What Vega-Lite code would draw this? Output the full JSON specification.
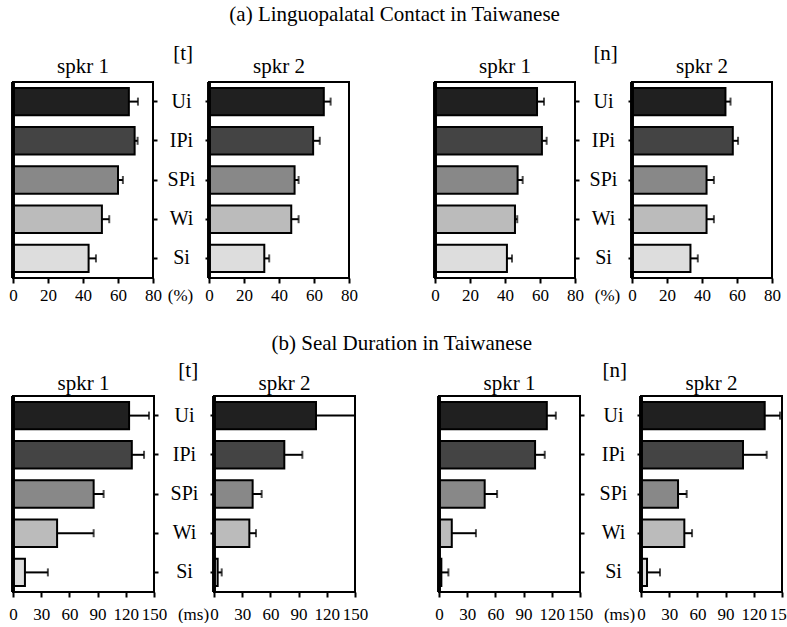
{
  "$schema": "https://vega.github.io/schema/vega-lite/v6.json",
  "background": "white",
  "padding": {"left": 7, "top": 3, "right": 0, "bottom": 0},
  "data": {"values": [
    {"m":"a","c":"t","s":1,"v":"Ui","val":66.2,"hi":71.4},
    {"m":"a","c":"t","s":1,"v":"IPi","val":69.5,"hi":71.2},
    {"m":"a","c":"t","s":1,"v":"SPi","val":60.0,"hi":62.8},
    {"m":"a","c":"t","s":1,"v":"Wi","val":50.8,"hi":55.0},
    {"m":"a","c":"t","s":1,"v":"Si","val":43.2,"hi":47.4},
    {"m":"a","c":"t","s":2,"v":"Ui","val":65.6,"hi":69.5},
    {"m":"a","c":"t","s":2,"v":"IPi","val":59.5,"hi":63.3},
    {"m":"a","c":"t","s":2,"v":"SPi","val":48.9,"hi":51.2},
    {"m":"a","c":"t","s":2,"v":"Wi","val":47.0,"hi":51.2},
    {"m":"a","c":"t","s":2,"v":"Si","val":31.6,"hi":34.4},
    {"m":"a","c":"n","s":1,"v":"Ui","val":58.3,"hi":62.3},
    {"m":"a","c":"n","s":1,"v":"IPi","val":61.1,"hi":63.8},
    {"m":"a","c":"n","s":1,"v":"SPi","val":47.2,"hi":50.1},
    {"m":"a","c":"n","s":1,"v":"Wi","val":45.7,"hi":47.0},
    {"m":"a","c":"n","s":1,"v":"Si","val":41.1,"hi":44.0},
    {"m":"a","c":"n","s":2,"v":"Ui","val":53.4,"hi":56.3},
    {"m":"a","c":"n","s":2,"v":"IPi","val":57.6,"hi":60.6},
    {"m":"a","c":"n","s":2,"v":"SPi","val":42.6,"hi":46.8},
    {"m":"a","c":"n","s":2,"v":"Wi","val":42.6,"hi":46.8},
    {"m":"a","c":"n","s":2,"v":"Si","val":33.4,"hi":37.6},
    {"m":"b","c":"t","s":1,"v":"Ui","val":123.5,"hi":144.7},
    {"m":"b","c":"t","s":1,"v":"IPi","val":126.4,"hi":139.4},
    {"m":"b","c":"t","s":1,"v":"SPi","val":85.8,"hi":96.4},
    {"m":"b","c":"t","s":1,"v":"Wi","val":46.9,"hi":85.8},
    {"m":"b","c":"t","s":1,"v":"Si","val":12.7,"hi":37.1},
    {"m":"b","c":"t","s":2,"v":"Ui","val":108.5,"hi":150.0},
    {"m":"b","c":"t","s":2,"v":"IPi","val":74.8,"hi":94.0},
    {"m":"b","c":"t","s":2,"v":"SPi","val":41.1,"hi":50.7},
    {"m":"b","c":"t","s":2,"v":"Wi","val":37.6,"hi":44.7},
    {"m":"b","c":"t","s":2,"v":"Si","val":3.9,"hi":8.2},
    {"m":"b","c":"n","s":1,"v":"Ui","val":114.7,"hi":124.3},
    {"m":"b","c":"n","s":1,"v":"IPi","val":102.2,"hi":112.5},
    {"m":"b","c":"n","s":1,"v":"SPi","val":48.6,"hi":61.8},
    {"m":"b","c":"n","s":1,"v":"Wi","val":13.6,"hi":39.3},
    {"m":"b","c":"n","s":1,"v":"Si","val":2.5,"hi":10.0},
    {"m":"b","c":"n","s":2,"v":"Ui","val":131.6,"hi":147.9},
    {"m":"b","c":"n","s":2,"v":"IPi","val":108.5,"hi":133.7},
    {"m":"b","c":"n","s":2,"v":"SPi","val":39.4,"hi":48.6},
    {"m":"b","c":"n","s":2,"v":"Wi","val":46.1,"hi":54.3},
    {"m":"b","c":"n","s":2,"v":"Si","val":6.4,"hi":20.2}
  ]},
  "spacing": 28,
  "vconcat": [
    {
      "title": {"text": "(a) Linguopalatal Contact in Taiwanese", "offset": 18, "anchor": "middle"},
      "spacing": 70,
      "hconcat": [
        {
          "title": {"text": "[t]", "offset": -9, "anchor": "middle"},
          "bounds": "flush",
          "spacing": 56,
          "hconcat": [
            {
              "title": {"text": "spkr 1", "offset": 4, "anchor": "middle"},
              "width": 140, "height": 196,
              "transform": [{"filter": "datum.m=='a' && datum.c=='t' && datum.s==1"}],
              "layer": [
                {"mark": {"type": "bar", "stroke": "black", "strokeWidth": 2},
                 "encoding": {
                   "y": {"field": "v", "type": "nominal", "scale": {"domain": ["Ui","IPi","SPi","Wi","Si"], "paddingInner": 0.3, "paddingOuter": 0.15}, "axis": {"orient": "right", "title": null, "labelAlign": "center", "labelPadding": 24}},
                   "x": {"field": "val", "type": "quantitative", "scale": {"domain": [0, 80]}, "axis": {"values": [0,20,40,60,80], "title": "(%)", "titleX": 167, "titleY": 9, "titleBaseline": "top", "titleAlign": "center", "titleFontSize": 17, "labelPadding": 4}},
                   "fill": {"field": "v", "type": "nominal", "scale": {"domain": ["Ui","IPi","SPi","Wi","Si"], "range": ["#202020","#444444","#888888","#bbbbbb","#dddddd"]}, "legend": null}
                 }},
                {"mark": {"type": "rule", "color": "black", "strokeWidth": 2},
                 "encoding": {
                   "y": {"field": "v", "type": "nominal", "scale": {"domain": ["Ui","IPi","SPi","Wi","Si"], "paddingInner": 0.3, "paddingOuter": 0.15}, "axis": {"orient": "right", "title": null, "labelAlign": "center", "labelPadding": 24}},
                   "x": {"field": "val", "type": "quantitative", "scale": {"domain": [0, 80]}, "axis": {"values": [0,20,40,60,80], "title": "(%)", "titleX": 167, "titleY": 9, "titleBaseline": "top", "titleAlign": "center", "titleFontSize": 17, "labelPadding": 4}},
                   "x2": {"field": "hi"}}},
                {"mark": {"type": "tick", "color": "black", "orient": "vertical", "size": 8, "thickness": 2},
                 "encoding": {
                   "y": {"field": "v", "type": "nominal", "scale": {"domain": ["Ui","IPi","SPi","Wi","Si"], "paddingInner": 0.3, "paddingOuter": 0.15}, "axis": {"orient": "right", "title": null, "labelAlign": "center", "labelPadding": 24}},
                   "x": {"field": "hi", "type": "quantitative", "scale": {"domain": [0, 80]}, "axis": {"values": [0,20,40,60,80], "title": "(%)", "titleX": 167, "titleY": 9, "titleBaseline": "top", "titleAlign": "center", "titleFontSize": 17, "labelPadding": 4}}}},
                {"mark": {"type": "rule", "color": "black", "strokeWidth": 3},
                 "encoding": {
                   "x": {"datum": 0, "type": "quantitative", "scale": {"domain": [0, 80]}, "axis": {"values": [0,20,40,60,80], "title": "(%)", "titleX": 167, "titleY": 9, "titleBaseline": "top", "titleAlign": "center", "titleFontSize": 17, "labelPadding": 4}}}}
              ]
            },
            {
              "title": {"text": "spkr 2", "offset": 4, "anchor": "middle"},
              "width": 140, "height": 196,
              "transform": [{"filter": "datum.m=='a' && datum.c=='t' && datum.s==2"}],
              "layer": [
                {"mark": {"type": "bar", "stroke": "black", "strokeWidth": 2},
                 "encoding": {
                   "y": {"field": "v", "type": "nominal", "scale": {"domain": ["Ui","IPi","SPi","Wi","Si"], "paddingInner": 0.3, "paddingOuter": 0.15}, "axis": {"orient": "left", "title": null, "labels": false}},
                   "x": {"field": "val", "type": "quantitative", "scale": {"domain": [0, 80]}, "axis": {"values": [0,20,40,60,80], "title": null, "labelPadding": 4}},
                   "fill": {"field": "v", "type": "nominal", "scale": {"domain": ["Ui","IPi","SPi","Wi","Si"], "range": ["#202020","#444444","#888888","#bbbbbb","#dddddd"]}, "legend": null}
                 }},
                {"mark": {"type": "rule", "color": "black", "strokeWidth": 2},
                 "encoding": {
                   "y": {"field": "v", "type": "nominal", "scale": {"domain": ["Ui","IPi","SPi","Wi","Si"], "paddingInner": 0.3, "paddingOuter": 0.15}, "axis": {"orient": "left", "title": null, "labels": false}},
                   "x": {"field": "val", "type": "quantitative", "scale": {"domain": [0, 80]}, "axis": {"values": [0,20,40,60,80], "title": null, "labelPadding": 4}},
                   "x2": {"field": "hi"}}},
                {"mark": {"type": "tick", "color": "black", "orient": "vertical", "size": 8, "thickness": 2},
                 "encoding": {
                   "y": {"field": "v", "type": "nominal", "scale": {"domain": ["Ui","IPi","SPi","Wi","Si"], "paddingInner": 0.3, "paddingOuter": 0.15}, "axis": {"orient": "left", "title": null, "labels": false}},
                   "x": {"field": "hi", "type": "quantitative", "scale": {"domain": [0, 80]}, "axis": {"values": [0,20,40,60,80], "title": null, "labelPadding": 4}}}},
                {"mark": {"type": "rule", "color": "black", "strokeWidth": 3},
                 "encoding": {
                   "x": {"datum": 0, "type": "quantitative", "scale": {"domain": [0, 80]}, "axis": {"values": [0,20,40,60,80], "title": null, "labelPadding": 4}}}}
              ]
            }
          ]
        },
        {
          "title": {"text": "[n]", "offset": -9, "anchor": "middle"},
          "bounds": "flush",
          "spacing": 57,
          "hconcat": [
            {
              "title": {"text": "spkr 1", "offset": 4, "anchor": "middle"},
              "width": 140, "height": 196,
              "transform": [{"filter": "datum.m=='a' && datum.c=='n' && datum.s==1"}],
              "layer": [
                {"mark": {"type": "bar", "stroke": "black", "strokeWidth": 2},
                 "encoding": {
                   "y": {"field": "v", "type": "nominal", "scale": {"domain": ["Ui","IPi","SPi","Wi","Si"], "paddingInner": 0.3, "paddingOuter": 0.15}, "axis": {"orient": "right", "title": null, "labelAlign": "center", "labelPadding": 24}},
                   "x": {"field": "val", "type": "quantitative", "scale": {"domain": [0, 80]}, "axis": {"values": [0,20,40,60,80], "title": "(%)", "titleX": 172, "titleY": 9, "titleBaseline": "top", "titleAlign": "center", "titleFontSize": 17, "labelPadding": 4}},
                   "fill": {"field": "v", "type": "nominal", "scale": {"domain": ["Ui","IPi","SPi","Wi","Si"], "range": ["#202020","#444444","#888888","#bbbbbb","#dddddd"]}, "legend": null}
                 }},
                {"mark": {"type": "rule", "color": "black", "strokeWidth": 2},
                 "encoding": {
                   "y": {"field": "v", "type": "nominal", "scale": {"domain": ["Ui","IPi","SPi","Wi","Si"], "paddingInner": 0.3, "paddingOuter": 0.15}, "axis": {"orient": "right", "title": null, "labelAlign": "center", "labelPadding": 24}},
                   "x": {"field": "val", "type": "quantitative", "scale": {"domain": [0, 80]}, "axis": {"values": [0,20,40,60,80], "title": "(%)", "titleX": 172, "titleY": 9, "titleBaseline": "top", "titleAlign": "center", "titleFontSize": 17, "labelPadding": 4}},
                   "x2": {"field": "hi"}}},
                {"mark": {"type": "tick", "color": "black", "orient": "vertical", "size": 8, "thickness": 2},
                 "encoding": {
                   "y": {"field": "v", "type": "nominal", "scale": {"domain": ["Ui","IPi","SPi","Wi","Si"], "paddingInner": 0.3, "paddingOuter": 0.15}, "axis": {"orient": "right", "title": null, "labelAlign": "center", "labelPadding": 24}},
                   "x": {"field": "hi", "type": "quantitative", "scale": {"domain": [0, 80]}, "axis": {"values": [0,20,40,60,80], "title": "(%)", "titleX": 172, "titleY": 9, "titleBaseline": "top", "titleAlign": "center", "titleFontSize": 17, "labelPadding": 4}}}},
                {"mark": {"type": "rule", "color": "black", "strokeWidth": 3},
                 "encoding": {
                   "x": {"datum": 0, "type": "quantitative", "scale": {"domain": [0, 80]}, "axis": {"values": [0,20,40,60,80], "title": "(%)", "titleX": 172, "titleY": 9, "titleBaseline": "top", "titleAlign": "center", "titleFontSize": 17, "labelPadding": 4}}}}
              ]
            },
            {
              "title": {"text": "spkr 2", "offset": 4, "anchor": "middle"},
              "width": 140, "height": 196,
              "transform": [{"filter": "datum.m=='a' && datum.c=='n' && datum.s==2"}],
              "layer": [
                {"mark": {"type": "bar", "stroke": "black", "strokeWidth": 2},
                 "encoding": {
                   "y": {"field": "v", "type": "nominal", "scale": {"domain": ["Ui","IPi","SPi","Wi","Si"], "paddingInner": 0.3, "paddingOuter": 0.15}, "axis": {"orient": "left", "title": null, "labels": false}},
                   "x": {"field": "val", "type": "quantitative", "scale": {"domain": [0, 80]}, "axis": {"values": [0,20,40,60,80], "title": null, "labelPadding": 4}},
                   "fill": {"field": "v", "type": "nominal", "scale": {"domain": ["Ui","IPi","SPi","Wi","Si"], "range": ["#202020","#444444","#888888","#bbbbbb","#dddddd"]}, "legend": null}
                 }},
                {"mark": {"type": "rule", "color": "black", "strokeWidth": 2},
                 "encoding": {
                   "y": {"field": "v", "type": "nominal", "scale": {"domain": ["Ui","IPi","SPi","Wi","Si"], "paddingInner": 0.3, "paddingOuter": 0.15}, "axis": {"orient": "left", "title": null, "labels": false}},
                   "x": {"field": "val", "type": "quantitative", "scale": {"domain": [0, 80]}, "axis": {"values": [0,20,40,60,80], "title": null, "labelPadding": 4}},
                   "x2": {"field": "hi"}}},
                {"mark": {"type": "tick", "color": "black", "orient": "vertical", "size": 8, "thickness": 2},
                 "encoding": {
                   "y": {"field": "v", "type": "nominal", "scale": {"domain": ["Ui","IPi","SPi","Wi","Si"], "paddingInner": 0.3, "paddingOuter": 0.15}, "axis": {"orient": "left", "title": null, "labels": false}},
                   "x": {"field": "hi", "type": "quantitative", "scale": {"domain": [0, 80]}, "axis": {"values": [0,20,40,60,80], "title": null, "labelPadding": 4}}}},
                {"mark": {"type": "rule", "color": "black", "strokeWidth": 3},
                 "encoding": {
                   "x": {"datum": 0, "type": "quantitative", "scale": {"domain": [0, 80]}, "axis": {"values": [0,20,40,60,80], "title": null, "labelPadding": 4}}}}
              ]
            }
          ]
        }
      ]
    },
    {
      "title": {"text": "(b) Seal Duration in Taiwanese", "offset": 6, "anchor": "middle"},
      "spacing": 64,
      "hconcat": [
        {
          "title": {"text": "[t]", "offset": -9, "anchor": "middle"},
          "bounds": "flush",
          "spacing": 60,
          "hconcat": [
            {
              "title": {"text": "spkr 1", "offset": 1, "anchor": "middle"},
              "width": 141, "height": 196,
              "transform": [{"filter": "datum.m=='b' && datum.c=='t' && datum.s==1"}],
              "layer": [
                {"mark": {"type": "bar", "stroke": "black", "strokeWidth": 2},
                 "encoding": {
                   "y": {"field": "v", "type": "nominal", "scale": {"domain": ["Ui","IPi","SPi","Wi","Si"], "paddingInner": 0.3, "paddingOuter": 0.15}, "axis": {"orient": "right", "title": null, "labelAlign": "center", "labelPadding": 26}},
                   "x": {"field": "val", "type": "quantitative", "scale": {"domain": [0, 150]}, "axis": {"values": [0,30,60,90,120,150], "title": "(ms)", "titleX": 180, "titleY": 14, "titleBaseline": "top", "titleAlign": "center", "titleFontSize": 17, "labelPadding": 9}},
                   "fill": {"field": "v", "type": "nominal", "scale": {"domain": ["Ui","IPi","SPi","Wi","Si"], "range": ["#202020","#444444","#888888","#bbbbbb","#dddddd"]}, "legend": null}
                 }},
                {"mark": {"type": "rule", "color": "black", "strokeWidth": 2},
                 "encoding": {
                   "y": {"field": "v", "type": "nominal", "scale": {"domain": ["Ui","IPi","SPi","Wi","Si"], "paddingInner": 0.3, "paddingOuter": 0.15}, "axis": {"orient": "right", "title": null, "labelAlign": "center", "labelPadding": 26}},
                   "x": {"field": "val", "type": "quantitative", "scale": {"domain": [0, 150]}, "axis": {"values": [0,30,60,90,120,150], "title": "(ms)", "titleX": 180, "titleY": 14, "titleBaseline": "top", "titleAlign": "center", "titleFontSize": 17, "labelPadding": 9}},
                   "x2": {"field": "hi"}}},
                {"mark": {"type": "tick", "color": "black", "orient": "vertical", "size": 8, "thickness": 2},
                 "encoding": {
                   "y": {"field": "v", "type": "nominal", "scale": {"domain": ["Ui","IPi","SPi","Wi","Si"], "paddingInner": 0.3, "paddingOuter": 0.15}, "axis": {"orient": "right", "title": null, "labelAlign": "center", "labelPadding": 26}},
                   "x": {"field": "hi", "type": "quantitative", "scale": {"domain": [0, 150]}, "axis": {"values": [0,30,60,90,120,150], "title": "(ms)", "titleX": 180, "titleY": 14, "titleBaseline": "top", "titleAlign": "center", "titleFontSize": 17, "labelPadding": 9}}}},
                {"mark": {"type": "rule", "color": "black", "strokeWidth": 3},
                 "encoding": {
                   "x": {"datum": 0, "type": "quantitative", "scale": {"domain": [0, 150]}, "axis": {"values": [0,30,60,90,120,150], "title": "(ms)", "titleX": 180, "titleY": 14, "titleBaseline": "top", "titleAlign": "center", "titleFontSize": 17, "labelPadding": 9}}}}
              ]
            },
            {
              "title": {"text": "spkr 2", "offset": 1, "anchor": "middle"},
              "width": 141, "height": 196,
              "transform": [{"filter": "datum.m=='b' && datum.c=='t' && datum.s==2"}],
              "layer": [
                {"mark": {"type": "bar", "stroke": "black", "strokeWidth": 2},
                 "encoding": {
                   "y": {"field": "v", "type": "nominal", "scale": {"domain": ["Ui","IPi","SPi","Wi","Si"], "paddingInner": 0.3, "paddingOuter": 0.15}, "axis": {"orient": "left", "title": null, "labels": false}},
                   "x": {"field": "val", "type": "quantitative", "scale": {"domain": [0, 150]}, "axis": {"values": [0,30,60,90,120,150], "title": null, "labelPadding": 9}},
                   "fill": {"field": "v", "type": "nominal", "scale": {"domain": ["Ui","IPi","SPi","Wi","Si"], "range": ["#202020","#444444","#888888","#bbbbbb","#dddddd"]}, "legend": null}
                 }},
                {"mark": {"type": "rule", "color": "black", "strokeWidth": 2},
                 "encoding": {
                   "y": {"field": "v", "type": "nominal", "scale": {"domain": ["Ui","IPi","SPi","Wi","Si"], "paddingInner": 0.3, "paddingOuter": 0.15}, "axis": {"orient": "left", "title": null, "labels": false}},
                   "x": {"field": "val", "type": "quantitative", "scale": {"domain": [0, 150]}, "axis": {"values": [0,30,60,90,120,150], "title": null, "labelPadding": 9}},
                   "x2": {"field": "hi"}}},
                {"mark": {"type": "tick", "color": "black", "orient": "vertical", "size": 8, "thickness": 2},
                 "encoding": {
                   "y": {"field": "v", "type": "nominal", "scale": {"domain": ["Ui","IPi","SPi","Wi","Si"], "paddingInner": 0.3, "paddingOuter": 0.15}, "axis": {"orient": "left", "title": null, "labels": false}},
                   "x": {"field": "hi", "type": "quantitative", "scale": {"domain": [0, 150]}, "axis": {"values": [0,30,60,90,120,150], "title": null, "labelPadding": 9}}}},
                {"mark": {"type": "rule", "color": "black", "strokeWidth": 3},
                 "encoding": {
                   "x": {"datum": 0, "type": "quantitative", "scale": {"domain": [0, 150]}, "axis": {"values": [0,30,60,90,120,150], "title": null, "labelPadding": 9}}}}
              ]
            }
          ]
        },
        {
          "title": {"text": "[n]", "offset": -9, "anchor": "middle"},
          "bounds": "flush",
          "spacing": 61,
          "hconcat": [
            {
              "title": {"text": "spkr 1", "offset": 1, "anchor": "middle"},
              "width": 141, "height": 196,
              "transform": [{"filter": "datum.m=='b' && datum.c=='n' && datum.s==1"}],
              "layer": [
                {"mark": {"type": "bar", "stroke": "black", "strokeWidth": 2},
                 "encoding": {
                   "y": {"field": "v", "type": "nominal", "scale": {"domain": ["Ui","IPi","SPi","Wi","Si"], "paddingInner": 0.3, "paddingOuter": 0.15}, "axis": {"orient": "right", "title": null, "labelAlign": "center", "labelPadding": 29}},
                   "x": {"field": "val", "type": "quantitative", "scale": {"domain": [0, 150]}, "axis": {"values": [0,30,60,90,120,150], "title": "(ms)", "titleX": 180, "titleY": 14, "titleBaseline": "top", "titleAlign": "center", "titleFontSize": 17, "labelPadding": 9}},
                   "fill": {"field": "v", "type": "nominal", "scale": {"domain": ["Ui","IPi","SPi","Wi","Si"], "range": ["#202020","#444444","#888888","#bbbbbb","#dddddd"]}, "legend": null}
                 }},
                {"mark": {"type": "rule", "color": "black", "strokeWidth": 2},
                 "encoding": {
                   "y": {"field": "v", "type": "nominal", "scale": {"domain": ["Ui","IPi","SPi","Wi","Si"], "paddingInner": 0.3, "paddingOuter": 0.15}, "axis": {"orient": "right", "title": null, "labelAlign": "center", "labelPadding": 29}},
                   "x": {"field": "val", "type": "quantitative", "scale": {"domain": [0, 150]}, "axis": {"values": [0,30,60,90,120,150], "title": "(ms)", "titleX": 180, "titleY": 14, "titleBaseline": "top", "titleAlign": "center", "titleFontSize": 17, "labelPadding": 9}},
                   "x2": {"field": "hi"}}},
                {"mark": {"type": "tick", "color": "black", "orient": "vertical", "size": 8, "thickness": 2},
                 "encoding": {
                   "y": {"field": "v", "type": "nominal", "scale": {"domain": ["Ui","IPi","SPi","Wi","Si"], "paddingInner": 0.3, "paddingOuter": 0.15}, "axis": {"orient": "right", "title": null, "labelAlign": "center", "labelPadding": 29}},
                   "x": {"field": "hi", "type": "quantitative", "scale": {"domain": [0, 150]}, "axis": {"values": [0,30,60,90,120,150], "title": "(ms)", "titleX": 180, "titleY": 14, "titleBaseline": "top", "titleAlign": "center", "titleFontSize": 17, "labelPadding": 9}}}},
                {"mark": {"type": "rule", "color": "black", "strokeWidth": 3},
                 "encoding": {
                   "x": {"datum": 0, "type": "quantitative", "scale": {"domain": [0, 150]}, "axis": {"values": [0,30,60,90,120,150], "title": "(ms)", "titleX": 180, "titleY": 14, "titleBaseline": "top", "titleAlign": "center", "titleFontSize": 17, "labelPadding": 9}}}}
              ]
            },
            {
              "title": {"text": "spkr 2", "offset": 1, "anchor": "middle"},
              "width": 141, "height": 196,
              "transform": [{"filter": "datum.m=='b' && datum.c=='n' && datum.s==2"}],
              "layer": [
                {"mark": {"type": "bar", "stroke": "black", "strokeWidth": 2},
                 "encoding": {
                   "y": {"field": "v", "type": "nominal", "scale": {"domain": ["Ui","IPi","SPi","Wi","Si"], "paddingInner": 0.3, "paddingOuter": 0.15}, "axis": {"orient": "left", "title": null, "labels": false}},
                   "x": {"field": "val", "type": "quantitative", "scale": {"domain": [0, 150]}, "axis": {"values": [0,30,60,90,120,150], "title": null, "labelPadding": 9}},
                   "fill": {"field": "v", "type": "nominal", "scale": {"domain": ["Ui","IPi","SPi","Wi","Si"], "range": ["#202020","#444444","#888888","#bbbbbb","#dddddd"]}, "legend": null}
                 }},
                {"mark": {"type": "rule", "color": "black", "strokeWidth": 2},
                 "encoding": {
                   "y": {"field": "v", "type": "nominal", "scale": {"domain": ["Ui","IPi","SPi","Wi","Si"], "paddingInner": 0.3, "paddingOuter": 0.15}, "axis": {"orient": "left", "title": null, "labels": false}},
                   "x": {"field": "val", "type": "quantitative", "scale": {"domain": [0, 150]}, "axis": {"values": [0,30,60,90,120,150], "title": null, "labelPadding": 9}},
                   "x2": {"field": "hi"}}},
                {"mark": {"type": "tick", "color": "black", "orient": "vertical", "size": 8, "thickness": 2},
                 "encoding": {
                   "y": {"field": "v", "type": "nominal", "scale": {"domain": ["Ui","IPi","SPi","Wi","Si"], "paddingInner": 0.3, "paddingOuter": 0.15}, "axis": {"orient": "left", "title": null, "labels": false}},
                   "x": {"field": "hi", "type": "quantitative", "scale": {"domain": [0, 150]}, "axis": {"values": [0,30,60,90,120,150], "title": null, "labelPadding": 9}}}},
                {"mark": {"type": "rule", "color": "black", "strokeWidth": 3},
                 "encoding": {
                   "x": {"datum": 0, "type": "quantitative", "scale": {"domain": [0, 150]}, "axis": {"values": [0,30,60,90,120,150], "title": null, "labelPadding": 9}}}}
              ]
            }
          ]
        }
      ]
    }
  ],
  "config": {
    "font": "Liberation Serif",
    "view": {"stroke": "black", "strokeWidth": 2},
    "title": {"font": "Liberation Serif", "fontSize": 21, "fontWeight": "normal", "color": "black", "anchor": "middle", "baseline": "alphabetic"},
    "axis": {"grid": false, "domain": false, "tickColor": "black", "tickWidth": 2, "tickSize": 5, "labelColor": "black", "labelFont": "Liberation Serif", "labelFontSize": 17, "titleFont": "Liberation Serif", "titleFontWeight": "normal", "titleColor": "black", "labelOverlap": false, "labelFlush": false},
    "axisY": {"tickSize": 4, "labelFontSize": 20}
  }
}
